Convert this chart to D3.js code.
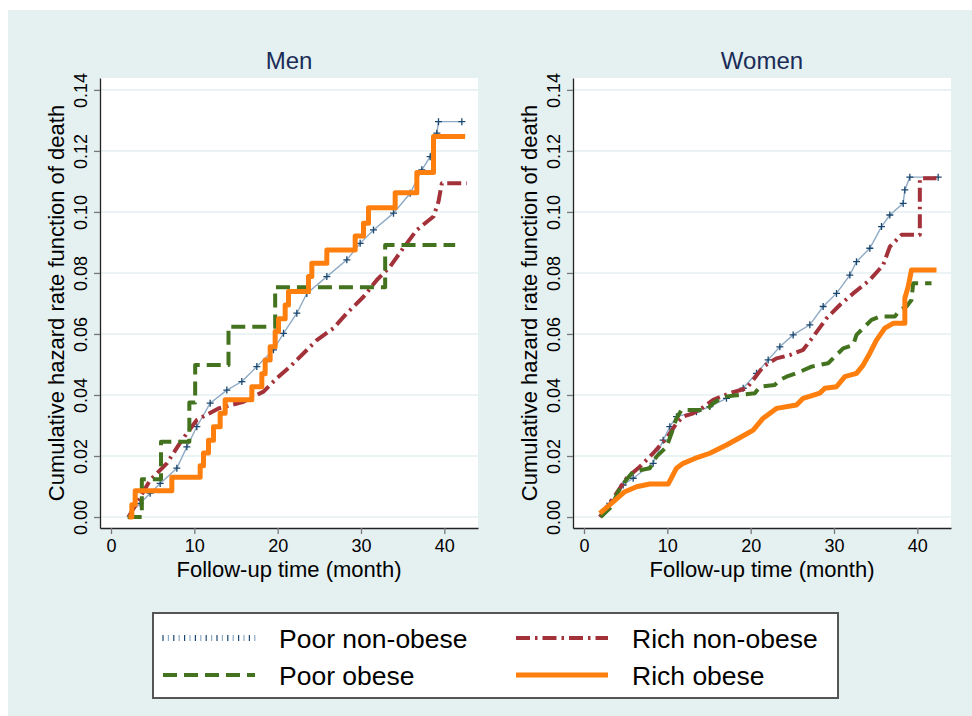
<!DOCTYPE html>
<html>
<head>
<meta charset="utf-8">
<script src="https://cdn.jsdelivr.net/npm/d3@7"></script>
<style>
  body { margin: 0; background: #fff; }
  text { font-family: "Liberation Sans", Arial, sans-serif; }
</style>
</head>
<body>
<svg id="board" width="972" height="716"></svg>
<script>
// [time (month), cumulative hazard]
var menPoorNonObese = [[1.9,0],[3.5,0.0045],[4.7,0.0078],[5.9,0.011],[7.9,0.016],[9.1,0.023],[10.3,0.0296],[11.9,0.0373],
  [13.9,0.0416],[15.7,0.0444],[17.5,0.0493],[19.5,0.0548],[20.7,0.0602],[22.3,0.0668],[23.5,0.0733],[25.9,0.0788],
  [28.3,0.0843],[29.9,0.0897],[31.5,0.0941],[33.9,0.0996],[35.9,0.1061],[37.3,0.1138],[38.3,0.1181],[39.1,0.1258],
  [39.3,0.1296],[42.1,0.1296]];
var menRichNonObese = [[2.1,0],[4.7,0.0121],[6.7,0.0176],[8.5,0.0252],[10.3,0.0318],[12.9,0.0356],[15.9,0.0378],
  [18.3,0.0411],[19.9,0.0455],[21.5,0.0493],[24.7,0.058],[26.7,0.0619],[28.3,0.0668],[30.3,0.0722],[31.9,0.0777],
  [33.5,0.0821],[34.9,0.0875],[36.7,0.0941],[38.7,0.0985],[39.3,0.1034],[39.7,0.1094],[42.7,0.1094]];
var menPoorObese = [[2.0,0],[3.7,0.0124],[6.0,0.0247],[9.4,0.0375],[10.1,0.0498],[14.1,0.0624],[19.7,0.0753],
  [32.9,0.0892],[41.3,0.0892]];
var menRichObese = [[2.1,0],[2.5,0.004],[2.9,0.0086],[7.3,0.013],[10.7,0.0168],[11.1,0.021],[11.7,0.0252],
  [12.3,0.0296],[13.1,0.034],[13.7,0.0384],[16.9,0.0427],[18.1,0.047],[18.5,0.0515],[19.1,0.0558],[19.7,0.0608],
  [20.1,0.065],[20.9,0.0695],[21.3,0.0739],[23.7,0.0788],[24.1,0.0832],[25.9,0.0875],[29.3,0.0921],[30.3,0.0963],
  [30.9,0.1014],[34.1,0.1063],[36.7,0.1129],[38.7,0.1247],[42.5,0.1247]];

var womenPoorNonObese = [[1.9,0],[3.1,0.0045],[4.7,0.0105],[5.9,0.0127],[8.3,0.0176],[9.5,0.0252],[10.3,0.0296],
  [11.1,0.0329],[13.5,0.0345],[15.1,0.0362],[17.1,0.0389],[19.1,0.0422],[20.7,0.0471],[22.1,0.0515],[23.5,0.0558],
  [25.1,0.0597],[27.1,0.063],[28.7,0.069],[30.3,0.0733],[31.9,0.0793],[32.7,0.0837],[34.3,0.0881],[35.7,0.0952],
  [36.7,0.099],[38.3,0.1028],[38.5,0.1072],[39.1,0.1114],[42.5,0.1114]];
var womenRichNonObese = [[1.9,0],[2.5,0.0023],[3.5,0.0061],[5.1,0.0127],[6.7,0.0165],[8.3,0.0209],[9.9,0.0258],
  [11.1,0.0307],[11.9,0.0329],[13.1,0.034],[14.1,0.0356],[15.5,0.0384],[17.5,0.0406],[19.5,0.0422],[20.3,0.0449],
  [21.5,0.0493],[23.1,0.052],[24.7,0.0531],[26.3,0.0548],[27.5,0.0591],[29.1,0.0651],[30.7,0.0695],[32.3,0.0733],
  [34.3,0.0777],[35.9,0.0826],[36.7,0.0886],[38.1,0.0925],[40.3,0.0925],[40.3,0.111],[42.3,0.111]];
var womenPoorObese = [[2.0,0],[3.3,0.0034],[4.1,0.0083],[4.9,0.0116],[5.9,0.0149],[7.9,0.016],[8.7,0.0198],
  [9.9,0.023],[10.5,0.0274],[11.1,0.0324],[11.7,0.0351],[14.7,0.0351],[15.5,0.0373],[16.7,0.0394],[18.7,0.04],
  [20.5,0.0406],[21.1,0.0427],[22.9,0.0433],[23.5,0.0449],[24.3,0.046],[25.9,0.0476],[27.3,0.0493],[29.3,0.0504],
  [30.3,0.0531],[31.1,0.0553],[32.3,0.0564],[32.7,0.0597],[33.5,0.0619],[34.5,0.0646],[35.5,0.0657],[37.3,0.0657],
  [37.9,0.0679],[38.7,0.069],[39.3,0.0711],[39.5,0.0766],[41.7,0.0766]];
var womenRichObese = [[1.9,0.0012],[3.5,0.005],[4.9,0.0083],[6.3,0.0099],[7.9,0.0108],[10.1,0.0108],[11.1,0.016],
  [11.9,0.0176],[13.3,0.0192],[15.1,0.0209],[17.1,0.0236],[18.9,0.0263],[20.3,0.0285],[21.5,0.0324],[23.1,0.0356],
  [25.5,0.0367],[26.3,0.0389],[28.3,0.0406],[28.9,0.0422],[30.3,0.0427],[31.3,0.046],[32.7,0.0471],[33.5,0.0498],
  [34.3,0.0537],[35.1,0.058],[36.1,0.0619],[37.1,0.0635],[38.5,0.0635],[38.5,0.0717],[38.9,0.0755],[39.3,0.081],
  [42.3,0.081]];

var panelTitles = ["Men", "Women"];
var seriesNames = ["Poor non-obese", "Rich non-obese", "Poor obese", "Rich obese"];
var xTicks = [0, 10, 20, 30, 40];
var yTicks = [0, 0.02, 0.04, 0.06, 0.08, 0.10, 0.12, 0.14];

var seriesStyle = [
  { color: "#1a476f", light: "#8eaac5", width: 1.4, dash: null, cross: true },
  { color: "#a3313a", width: 4, dash: "14,5,2.5,5" },
  { color: "#44731f", width: 4, dash: "14,7" },
  { color: "#ff7f0e", width: 5, dash: null }
];

// the big-jump men curves are drawn as steps, the rest follow the read corners
var panels = [
  { title: panelTitles[0], left: 100,
    series: [menPoorNonObese, menRichNonObese, menPoorObese, menRichObese],
    steps: [false, false, true, true] },
  { title: panelTitles[1], left: 573,
    series: [womenPoorNonObese, womenRichNonObese, womenPoorObese, womenRichObese],
    steps: [false, false, false, false] }
];

var svg = d3.select("#board");
var plotW = 378, plotTop = 78, plotBottom = 528;

svg.append("rect").attr("x", 8).attr("y", 10).attr("width", 964).attr("height", 706).attr("fill", "#e5f0f0");

var y = d3.scaleLinear().domain([-0.0036, 0.1439]).range([plotBottom, plotTop]);

panels.forEach(function(p) {
  var x = d3.scaleLinear().domain([-1.32, 44.04]).range([p.left, p.left + plotW]);
  var g = svg.append("g");

  g.append("rect")
    .attr("x", p.left).attr("y", plotTop)
    .attr("width", plotW).attr("height", plotBottom - plotTop)
    .attr("fill", "#fff");

  g.selectAll(".grid").data(yTicks).enter()
    .append("line")
    .attr("x1", p.left).attr("x2", p.left + plotW)
    .attr("y1", function(d) { return y(d); })
    .attr("y2", function(d) { return y(d); })
    .attr("stroke", "#e6eff1")
    .attr("stroke-width", 1.6);

  p.series.forEach(function(data, i) {
    var s = seriesStyle[i];
    var line = d3.line()
      .x(function(d) { return x(d[0]); })
      .y(function(d) { return y(d[1]); })
      .curve(p.steps[i] ? d3.curveStepAfter : d3.curveLinear);

    if (s.cross) {
      g.append("path").datum(data)
        .attr("d", line)
        .attr("fill", "none")
        .attr("stroke", s.light)
        .attr("stroke-width", s.width);
      g.selectAll(".cross" + i).data(data.slice(1)).enter()
        .append("path")
        .attr("transform", function(d) { return "translate(" + x(d[0]) + "," + y(d[1]) + ")"; })
        .attr("d", "M-3.5,0H3.5M0,-3.5V3.5")
        .attr("stroke", s.color)
        .attr("stroke-width", 1.3);
    } else {
      g.append("path").datum(data)
        .attr("d", line)
        .attr("fill", "none")
        .attr("stroke", s.color)
        .attr("stroke-width", s.width)
        .attr("stroke-dasharray", s.dash)
        .attr("stroke-linejoin", "round");
    }
  });

  var xAxis = g.append("g")
    .attr("transform", "translate(0," + plotBottom + ")")
    .call(d3.axisBottom(x).tickValues(xTicks).tickSize(6).tickSizeOuter(0).tickPadding(5));
  xAxis.selectAll("text").attr("font-size", 18).attr("fill", "#000")
    .attr("font-family", "Liberation Sans, Arial, sans-serif");

  var yAxis = g.append("g")
    .attr("transform", "translate(" + p.left + ",0)")
    .call(d3.axisLeft(y).tickValues(yTicks).tickSize(6).tickSizeOuter(0).tickFormat(d3.format(".2f")));
  yAxis.selectAll("text")
    .attr("transform", "rotate(-90)")
    .attr("x", 0).attr("y", -13).attr("dy", 0)
    .attr("text-anchor", "middle")
    .attr("font-size", 18).attr("fill", "#000")
    .attr("font-family", "Liberation Sans, Arial, sans-serif");

  [xAxis, yAxis].forEach(function(a) {
    a.select(".domain").attr("stroke", "#222").attr("stroke-width", 1.3);
    a.selectAll(".tick line").attr("stroke", "#777").attr("stroke-width", 1.3);
  });

  g.append("text")
    .attr("x", p.left + plotW / 2).attr("y", 69)
    .attr("text-anchor", "middle")
    .attr("font-size", 24)
    .attr("fill", "#1a2c57")
    .text(p.title);

  g.append("text")
    .attr("x", p.left + plotW / 2).attr("y", 577)
    .attr("text-anchor", "middle")
    .attr("font-size", 22)
    .text("Follow-up time (month)");

  g.append("text")
    .attr("transform", "translate(" + (p.left - 36) + "," + ((plotTop + plotBottom) / 2) + ") rotate(-90)")
    .attr("text-anchor", "middle")
    .attr("font-size", 22)
    .text("Cumulative hazard rate function of death");
});

// legend
var legend = svg.append("g");
legend.append("rect")
  .attr("x", 153).attr("y", 613).attr("width", 685).attr("height", 85)
  .attr("fill", "#fff").attr("stroke", "#555").attr("stroke-width", 2);

var legendPos = [[163, 638], [516, 638], [163, 675], [516, 675]];
seriesNames.forEach(function(name, i) {
  var s = seriesStyle[i];
  var lx = legendPos[i][0], ly = legendPos[i][1];
  if (s.cross) {
    legend.selectAll(".tick" + i).data(d3.range(lx, lx + 92, 5.4)).enter()
      .append("line")
      .attr("x1", function(d) { return d; }).attr("x2", function(d) { return d; })
      .attr("y1", ly - 3).attr("y2", ly + 3)
      .attr("stroke", function(d, j) { return j % 2 ? s.light : s.color; })
      .attr("stroke-width", 1.2);
  } else {
    legend.append("line")
      .attr("x1", lx).attr("x2", lx + 92)
      .attr("y1", ly).attr("y2", ly)
      .attr("stroke", s.color)
      .attr("stroke-width", s.width)
      .attr("stroke-dasharray", s.dash);
  }
  legend.append("text")
    .attr("x", lx + 116).attr("y", ly + 10)
    .attr("font-size", 26.5)
    .text(name);
});
</script>
</body>
</html>
